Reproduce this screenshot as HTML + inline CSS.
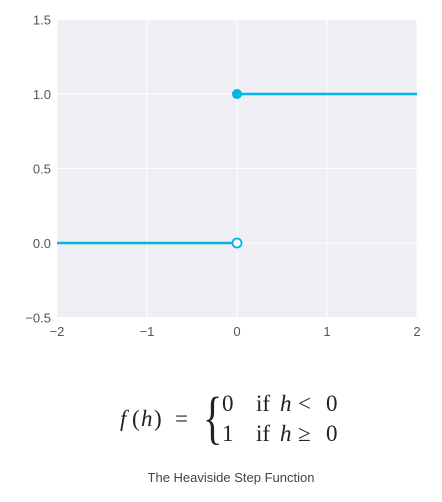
<!DOCTYPE html>
<html><head><meta charset="utf-8"><style>
body{margin:0;background:#fff;width:442px;height:497px;overflow:hidden;font-family:"Liberation Sans",sans-serif}
</style></head><body>
<svg width="442" height="497">
<rect x="57" y="20" width="360" height="298" fill="#eeeef4"/>
<g id="grid"></g><g id="ticks" font-size="13" fill="#555"></g><g id="series"></g>
<g font-family="Liberation Serif,serif" font-size="23" fill="#222">
<text x="120" y="426" font-style="italic">f</text><text x="132" y="426">(</text><text x="141" y="426" font-style="italic">h</text><text x="154" y="426">)</text><text x="175" y="426">=</text>
<text x="203" y="0" font-size="40" transform="translate(0,437) scale(1,1.45)">{</text>
<text x="222" y="411">0</text><text x="256" y="411">if</text><text x="280" y="411" font-style="italic">h</text><text x="298" y="411">&lt;</text><text x="326" y="411">0</text>
<text x="222" y="441">1</text><text x="256" y="441">if</text><text x="280" y="441" font-style="italic">h</text><text x="298" y="441">≥</text><text x="326" y="441">0</text>
</g>
<text x="231" y="482" text-anchor="middle" font-size="13" fill="#444">The Heaviside Step Function</text>
</svg>
<script>
const xTicks=[-2,-1,0,1,2];
const yTicks=[-0.5,0,0.5,1,1.5];
const segX=[[-2,0],[0,2]];
const segY=[0,1];
const ns="http://www.w3.org/2000/svg";
const X=v=>237+v*90, Y=v=>243-v*149;
function mk(t,a,p){const e=document.createElementNS(ns,t);for(const k in a)e.setAttribute(k,a[k]);p.appendChild(e);return e;}
const g=document.getElementById('grid'),tk=document.getElementById('ticks'),s=document.getElementById('series');
const fmt=v=>(v<0?'\u2212':'')+Math.abs(v);
xTicks.forEach(v=>{const l=mk('line',{x1:X(v),x2:X(v),y1:20,y2:318,stroke:'#fff','stroke-width':1},g);

const t=mk('text',{x:X(v),y:336,'text-anchor':'middle'},tk);t.textContent=fmt(v);
});
yTicks.forEach(v=>{const l=mk('line',{x1:57,x2:417,y1:Y(v),y2:Y(v),stroke:'#fff','stroke-width':1},g);

const t=mk('text',{x:51,y:Y(v)+5,'text-anchor':'end'},tk);t.textContent=fmt(v).replace(/^(−?\d)$/,'$1.0');
});
segX.forEach((r,i)=>{const l=mk('line',{x1:X(r[0]),x2:X(r[1]),y1:Y(segY[i]),y2:Y(segY[i]),stroke:'#00b4e6','stroke-width':2.5},s);
});
const o=mk('circle',{cx:X(0),cy:Y(0),r:4.5,fill:'#fff',stroke:'#00b4e6','stroke-width':1.8},s);

const c=mk('circle',{cx:X(0),cy:Y(1),r:5,fill:'#00b4e6'},s);

</script>
</body></html>
